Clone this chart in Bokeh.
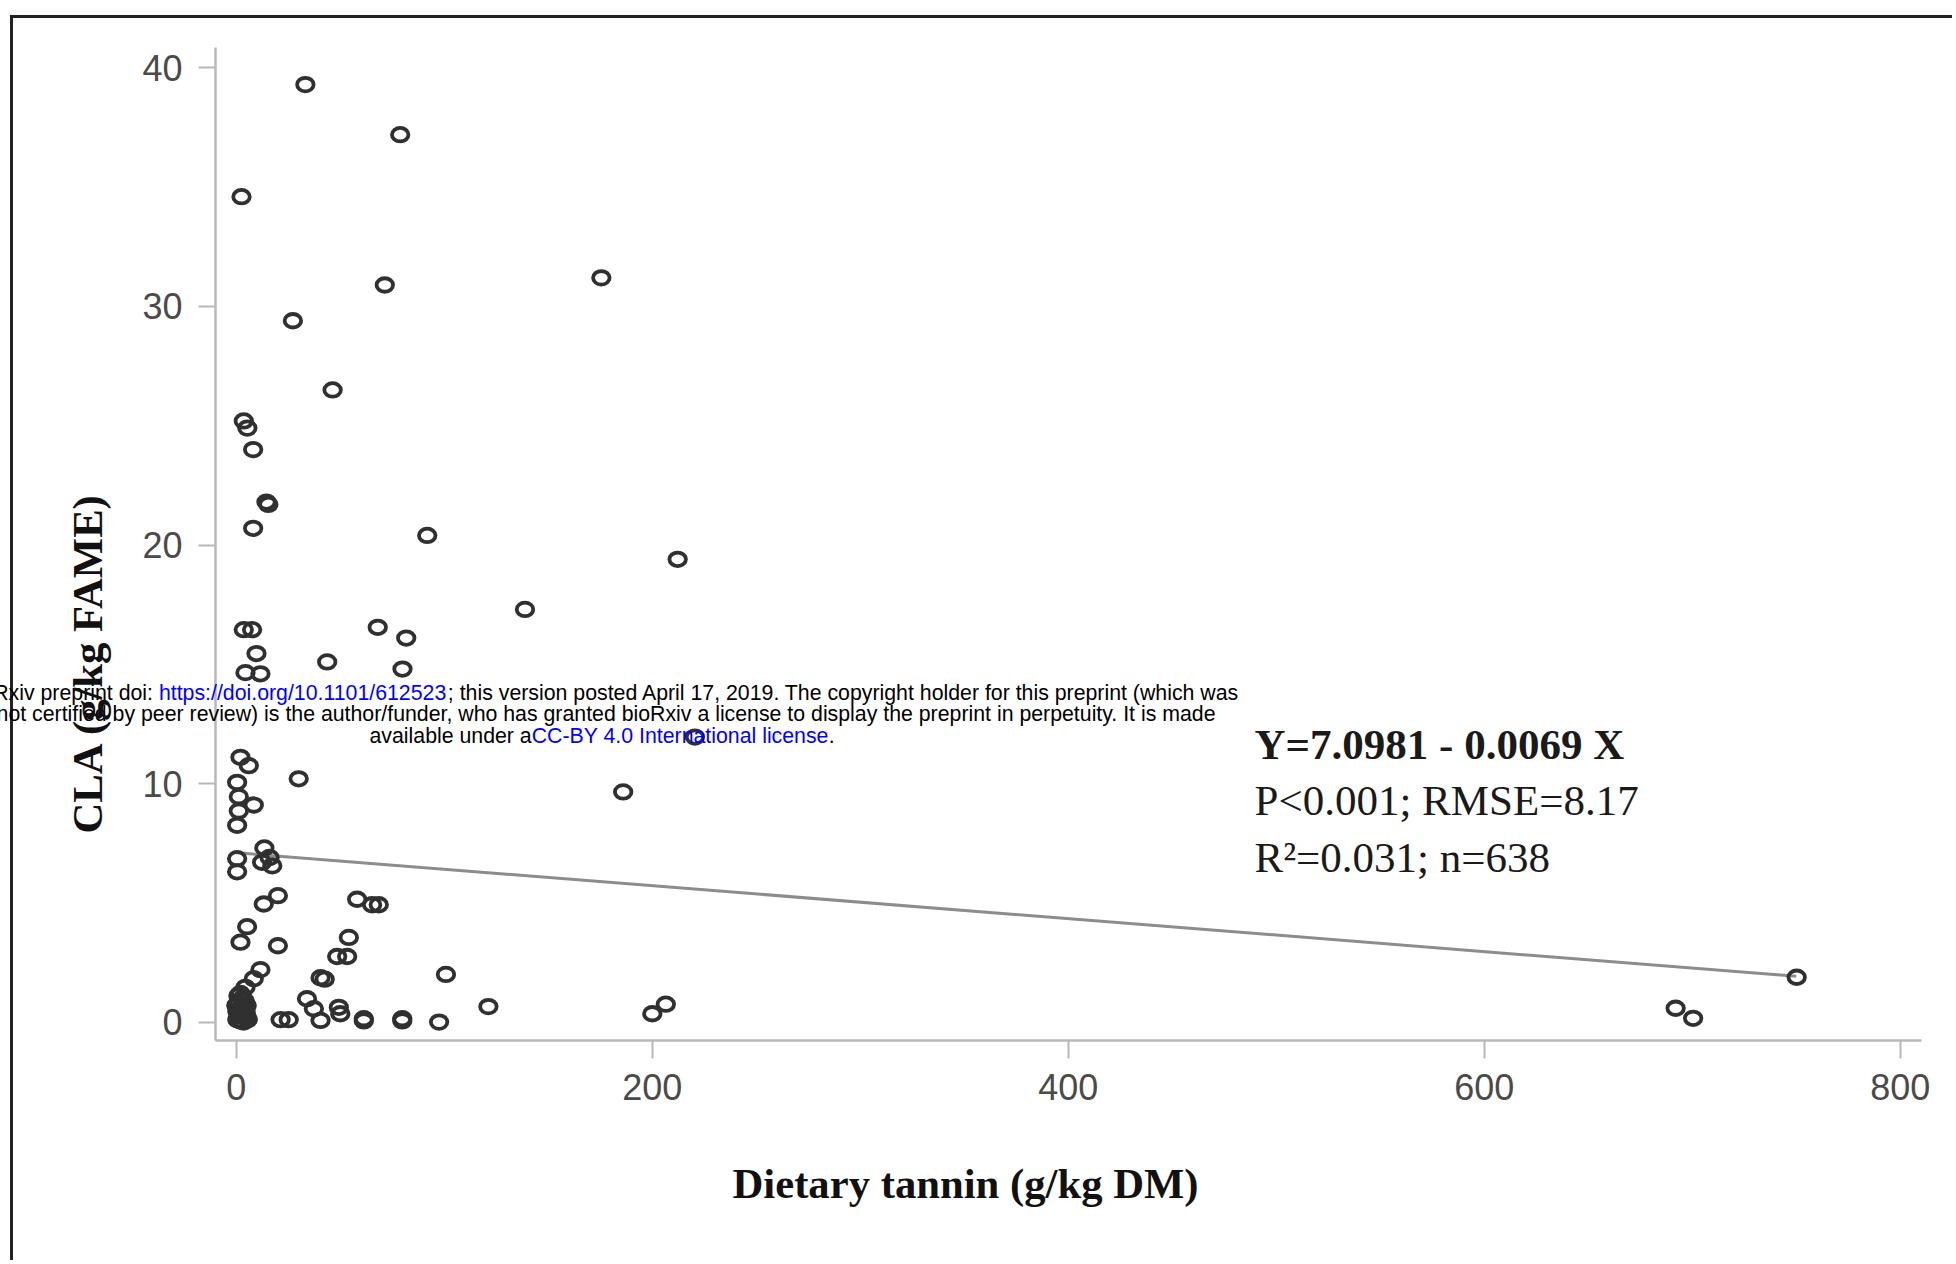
from bokeh.plotting import figure
from bokeh.models import Range1d, Label, Title, FixedTicker, ColumnDataSource
from bokeh.embed import file_html
from bokeh.resources import INLINE

# ---------------- data ----------------
tannin = [33.2, 78.8, 2.5, 71.4, 175.5, 27.2, 46.3, 3.6, 5.3, 8.1,
          14.5, 15.4, 8.1, 91.8, 212.2, 138.8, 3.6, 7.6, 68.0, 81.7,
          9.7, 43.7, 79.9, 4.4, 11.6, 220.5, 186.0,
          2.0, 6.0, 30.0, 0.4, 1.2, 8.4, 1.2, 0.4, 0.4, 0.4,
          13.5, 16.0, 12.4, 17.3, 13.2, 20.0, 58.1, 65.3, 68.5,
          5.2, 2.0, 20.0, 54.1, 48.5, 53.3, 11.6, 8.4, 4.4,
          40.5, 42.5, 100.8, 2.0, 34.0, 37.3, 40.5, 49.3, 50.0,
          21.3, 25.2, 61.3, 61.3, 79.8, 79.8, 97.5, 121.2, 200.0, 206.5,
          692.0, 700.4, 750.2,
          0.5, 1.5, 3.0, 5.0, 4.5, 1.0, 3.0, 5.0, 0.5, 2.0, 4.0, 5.5,
          3.5, 1.0, 2.0, 0.0, 4.0, 2.5]
cla = [39.3, 37.2, 34.6, 30.9, 31.2, 29.4, 26.5, 25.2, 24.9, 24.0,
       21.8, 21.7, 20.7, 20.4, 19.4, 17.3, 16.45, 16.45, 16.55, 16.1,
       15.45, 15.1, 14.8, 14.65, 14.6, 11.95, 9.65,
       11.1, 10.75, 10.2, 10.05, 9.45, 9.1, 8.85, 8.25, 6.85, 6.3,
       7.3, 6.9, 6.7, 6.55, 4.95, 5.3, 5.15, 4.92, 4.92,
       4.0, 3.35, 3.2, 3.55, 2.75, 2.75, 2.2, 1.82, 1.46,
       1.86, 1.8, 2.0, 1.2, 0.98, 0.56, 0.07, 0.62, 0.35,
       0.1, 0.1, 0.14, 0.05, 0.14, 0.05, 0.0, 0.65, 0.35, 0.75,
       0.58, 0.16, 1.88,
       0.1, 0.3, 0.5, 0.2, 0.4, 0.8, 1.0, 0.7, 0.45, 0.05, 0.9, 0.1,
       0.0, 1.1, 0.6, 0.7, 0.55, 0.25]

fit_x = [0, 750]
fit_y = [7.10, 1.92]

x_ticks = [0, 200, 400, 600, 800]
y_ticks = [0, 10, 20, 30, 40]

x_title = "Dietary tannin (g/kg DM)"
y_title = "CLA (g/kg FAME)"
stats_lines = ["Y=7.0981 - 0.0069 X", "P<0.001; RMSE=8.17", "R\u00b2=0.031; n=638"]

wm_line1 = ["bioRxiv preprint doi: ", "https://doi.org/10.1101/612523",
            "; this version posted April 17, 2019. The copyright holder for this preprint (which was"]
wm_line2 = "not certified by peer review) is the author/funder, who has granted bioRxiv a license to display the preprint in perpetuity. It is made"
wm_line3 = ["available under a", "CC-BY 4.0 International license", "."]

# ---------------- layout geometry (screen px of the page) ----------------
W, H = 1952, 1260
FL, FR, FT, FB = 215, 1921, 47, 1040
X0, X1 = -10.0, 810.2
Y0, Y1 = -0.771, 40.855


def dx(sx):
    return X0 + (sx - FL) * (X1 - X0) / (FR - FL)


def dy(sy):
    return Y0 + (FB - sy) * (Y1 - Y0) / (FB - FT)


p = figure(width=W, height=H, output_backend="svg", toolbar_location=None,
           x_range=Range1d(X0, X1), y_range=Range1d(Y0, Y1),
           min_border_left=FL, min_border_right=W - FR,
           min_border_top=FT, min_border_bottom=H - FB)
p.outline_line_color = None
p.xgrid.visible = False
p.ygrid.visible = False
p.background_fill_color = "white"
p.border_fill_color = None
p.styles = {
    "background-color": "white",
    "background-image": "linear-gradient(#222222, #222222), linear-gradient(#222222, #222222)",
    "background-size": "100% 3px, 3px 100%",
    "background-position": "10px 15px, 10px 15px",
    "background-repeat": "no-repeat",
}

for ax, ticks, tout, stand in ((p.xaxis, x_ticks, 18, 15), (p.yaxis, y_ticks, 17, 16)):
    ax.ticker = FixedTicker(ticks=ticks)
    ax.minor_tick_line_color = None
    ax.major_tick_out = tout
    ax.major_tick_in = 0
    ax.major_tick_line_color = "#b8b8b8"
    ax.major_tick_line_width = 2
    ax.axis_line_color = "#b8b8b8"
    ax.axis_line_width = 2.5
    ax.major_label_text_font = "Liberation Sans"
    ax.major_label_text_font_size = "36px"
    ax.major_label_text_color = "#4a4a4a"
    ax.major_label_standoff = stand
    ax.axis_label = None

# regression line
p.line(fit_x, fit_y, line_color="#8c8c8c", line_width=3)

# points
src = ColumnDataSource(dict(x=tannin, y=cla))
p.ellipse("x", "y", source=src, width=16.5, height=13.5, width_units="screen",
          height_units="screen", fill_color=None, line_color="#303030", line_width=3.8)

# y axis title (left panel, shifted down from the frame centre)
p.add_layout(Title(text=y_title, align="left", offset=FB - 833, standoff=58,
                   text_font="Liberation Serif", text_font_style="bold",
                   text_font_size="42.7px", text_color="#111111"), "left")

# x axis title (below panel so it is not clipped)
p.add_layout(Label(x=dx(965), y=dy(1183), text=x_title, text_align="center",
                   text_baseline="middle", text_font="Liberation Serif",
                   text_font_style="bold", text_font_size="42.7px", text_color="#111111"), "below")

# statistics block
for i, (txt, by) in enumerate(zip(stats_lines, [743.5, 799.5, 856.5])):
    p.add_layout(Label(x=dx(1254), y=dy(by), text=txt, text_align="left",
                       text_baseline="alphabetic", text_font="Liberation Serif",
                       text_font_style="bold" if i == 0 else "normal",
                       text_font_size="43px", text_color="#1a1a1a"))

# bioRxiv watermark
FS = 21.3
wm = dict(text_font="Liberation Sans", text_font_size=f"{FS}px", text_baseline="alphabetic")
B1, B2, B3 = 692, 713.5, 735
link0 = 158.4
link_w = 13.565 * FS
p.add_layout(Label(x=dx(link0), y=dy(B1), text=wm_line1[0], text_align="right", text_color="black", **wm), "below")
p.add_layout(Label(x=dx(link0), y=dy(B1), text=wm_line1[1], text_align="left", text_color="#0000ff", **wm), "below")
p.add_layout(Label(x=dx(link0 + link_w), y=dy(B1), text=wm_line1[2], text_align="left", text_color="black", **wm))
p.add_layout(Label(x=dx(1215), y=dy(B2), text=wm_line2, text_align="right", text_color="black", **wm), "above")
l3 = 369.0
p.add_layout(Label(x=dx(l3), y=dy(B3), text=wm_line3[0], text_align="left", text_color="black", **wm))
l3b = l3 + 7.615 * FS
p.add_layout(Label(x=dx(l3b), y=dy(B3), text=wm_line3[1], text_align="left", text_color="#0000ff", **wm))
p.add_layout(Label(x=dx(l3b + 13.95 * FS), y=dy(B3), text=wm_line3[2], text_align="left", text_color="black", **wm))

open("out.html", "w").write(file_html(p, INLINE))
